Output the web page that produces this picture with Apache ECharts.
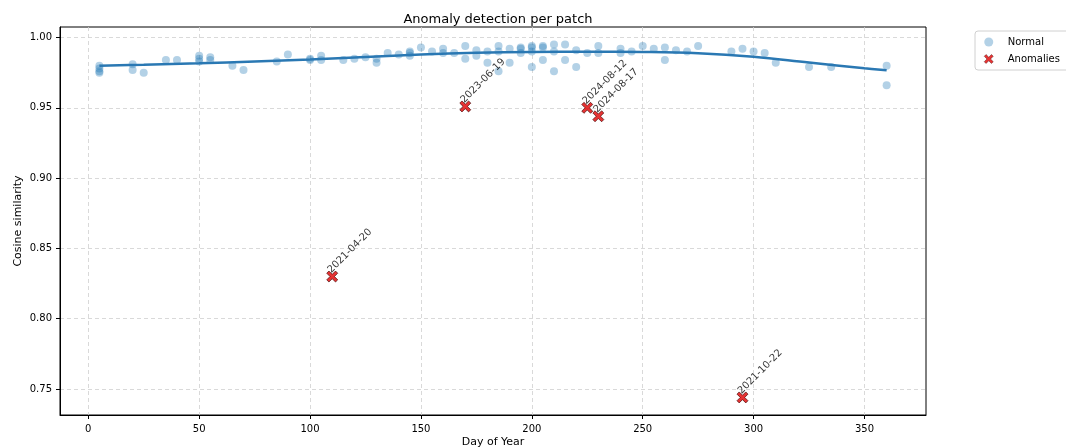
<!DOCTYPE html>
<html>
<head>
<meta charset="utf-8">
<script src="https://cdn.jsdelivr.net/npm/echarts@6/dist/echarts.min.js"></script>
<style>html,body{margin:0;padding:0;background:#fff}#c{width:1066px;height:448px}</style>
</head>
<body>
<div id="c"></div>
<script>
// Normal points: [day of year, cosine similarity]
const normalPoints = [
  [5,0.980],[5,0.978],[5,0.976],[5,0.975],
  [20,0.981],[20,0.977],[25,0.975],[35,0.984],[40,0.984],
  [50,0.987],[50,0.985],[50,0.983],[55,0.986],[55,0.984],
  [65,0.980],[70,0.977],[85,0.983],[90,0.988],
  [100,0.985],[100,0.984],[105,0.987],[105,0.984],[115,0.984],[120,0.985],[125,0.986],
  [130,0.985],[130,0.982],[135,0.989],[140,0.988],[145,0.990],[145,0.989],[145,0.987],
  [150,0.993],[155,0.990],[160,0.992],[160,0.989],[165,0.989],[170,0.994],[170,0.985],
  [175,0.991],[175,0.987],[180,0.990],[180,0.982],[185,0.994],[185,0.990],[185,0.976],
  [190,0.992],[190,0.982],[195,0.993],[195,0.992],[195,0.989],
  [200,0.994],[200,0.993],[200,0.990],[200,0.979],[205,0.994],[205,0.993],[205,0.984],
  [210,0.995],[210,0.990],[210,0.976],[215,0.995],[215,0.984],[220,0.991],[220,0.979],
  [225,0.989],[230,0.994],[230,0.989],[240,0.992],[240,0.989],[245,0.990],[250,0.994],
  [255,0.992],[260,0.993],[260,0.984],[265,0.991],[270,0.990],[275,0.994],
  [290,0.990],[295,0.992],[300,0.990],[305,0.989],[310,0.982],[325,0.979],[335,0.979],
  [360,0.980],[360,0.966]
];
// Anomalies: [day of year, cosine similarity, date]
const anomalyPoints = [
  [110,0.830,'2021-04-20'],
  [170,0.951,'2023-06-19'],
  [225,0.950,'2024-08-12'],
  [230,0.944,'2024-08-17'],
  [295,0.744,'2021-10-22']
];
// Smooth trend
const trendX = [5,25,50,75,100,125,150,175,200,225,250,275,300,325,350,360];
const trendY = [0.9800,0.9807,0.9817,0.9830,0.9844,0.9862,0.9879,0.9891,0.9897,0.9899,0.9897,0.9888,0.9863,0.9822,0.9782,0.9767];
const xTicks = [0,50,100,150,200,250,300,350];
const yTicks = [0.75,0.80,0.85,0.90,0.95,1.00];

const FONT = 'DejaVu Sans';
const xSym = 'path://M2,0 L5,3 L8,0 L10,2 L7,5 L10,8 L8,10 L5,7 L2,10 L0,8 L3,5 L0,2 Z';

const chart = echarts.init(document.getElementById('c'), null, {renderer:'canvas'});
const axisCommon = {
  axisLine:{show:true,onZero:false,lineStyle:{color:'#000',width:1}},
  axisTick:{show:true,inside:false,length:4,lineStyle:{color:'#000'}},
  splitLine:{show:true,lineStyle:{color:'#cfcfcf',type:[4,3],width:0.8}},
  nameTextStyle:{fontFamily:FONT,fontSize:11,color:'#000'},
  nameMoveOverlap:false,
};
chart.setOption({
  animation:false,
  backgroundColor:'#fff',
  textStyle:{fontFamily:FONT},
  title:{text:'Anomaly detection per patch',left:493,textAlign:'center',top:8,
    textStyle:{fontFamily:FONT,fontSize:13,fontWeight:'normal',color:'#000'}},
  grid:{left:60,right:140,top:27,bottom:33,show:true,borderColor:'#000',borderWidth:1,
    containLabel:false,outerBoundsMode:'none'},
  legend:{left:975,top:31,orient:'vertical',itemWidth:12,itemHeight:9,itemGap:7,
    padding:[6,12,6,9],borderColor:'#d0d0d0',borderWidth:1,borderRadius:3,
    textStyle:{fontFamily:FONT,fontSize:10,color:'#000',padding:[0,0,0,8]},
    data:[{name:'Normal',icon:'circle',itemStyle:{color:'rgba(31,119,180,0.42)'}},
          {name:'Anomalies',icon:xSym,itemStyle:{color:'#e00000',borderColor:'#3a0000',borderWidth:0.5}}]},
  xAxis:Object.assign({}, axisCommon, {
    type:'value',min:-12.75,max:377.75,name:'Day of Year',nameLocation:'middle',nameGap:22,
    axisTick:Object.assign({}, axisCommon.axisTick, {customValues:xTicks}),
    axisLabel:{customValues:xTicks,fontFamily:FONT,fontSize:10,color:'#000',margin:9},
  }),
  yAxis:Object.assign({}, axisCommon, {
    type:'value',min:0.7315,max:1.0075,name:'Cosine similarity',nameLocation:'middle',nameGap:36,
    axisTick:Object.assign({}, axisCommon.axisTick, {customValues:yTicks}),
    axisLabel:{customValues:yTicks,fontFamily:FONT,fontSize:10,color:'#000',margin:8,
      formatter:v=>v.toFixed(2)},
  }),
  series:[
    {name:'Normal',type:'scatter',data:normalPoints,symbol:'circle',symbolSize:8,
      itemStyle:{color:'rgba(31,119,180,0.42)'},z:2},
    {name:'trend',type:'line',data:trendX.map((x,i)=>[x,trendY[i]]),smooth:0.4,showSymbol:false,
      lineStyle:{color:'#2a78b3',width:2.5},z:3,legendHoverLink:false},
    {name:'Anomalies',type:'scatter',data:anomalyPoints.map(p=>[p[0],p[1],p[2]]),symbol:xSym,symbolSize:11,
      itemStyle:{color:'#e00000',borderColor:'#3a0000',borderWidth:0.8},z:4,
      label:{show:true,formatter:p=>p.data[2],position:'top',distance:2,rotate:45,align:'left',
        verticalAlign:'middle',offset:[-4,0],fontFamily:FONT,fontSize:10,color:'#000'}}
  ]
});
</script>
</body>
</html>
